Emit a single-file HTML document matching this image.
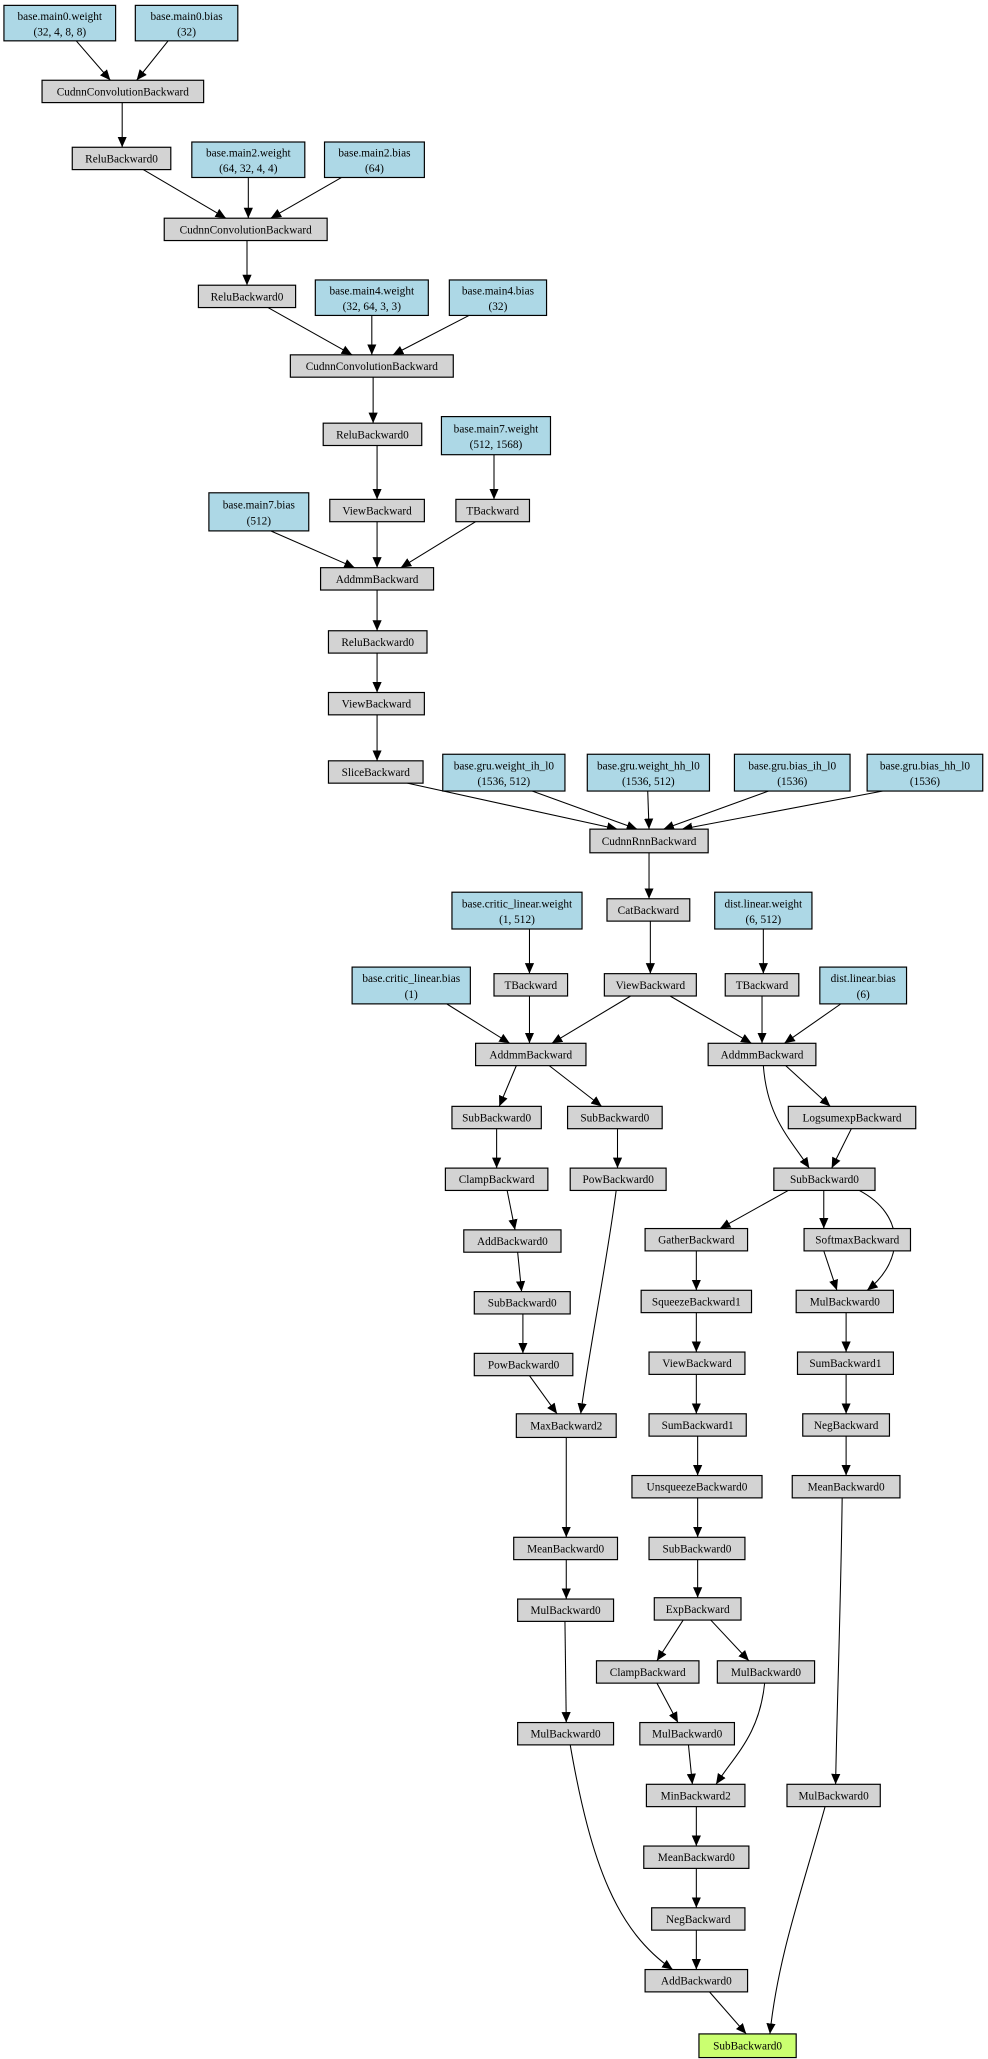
<!DOCTYPE html>
<html><head><meta charset="utf-8"><style>
html,body{margin:0;padding:0;background:#fff;}
svg{display:block;}
text{font-family:"Liberation Serif",serif;font-size:8.6px;fill:#000;text-anchor:middle;}
.g{fill:#d3d3d3;stroke:#000;stroke-width:0.9;}
.b{fill:#add8e6;stroke:#000;stroke-width:0.9;}
.r{fill:#caff70;stroke:#000;stroke-width:0.9;}
path.e{fill:none;stroke:#000;stroke-width:0.8;marker-end:url(#a);}
</style></head><body>
<svg width="988" height="2059" viewBox="0 0 752 1567" xmlns="http://www.w3.org/2000/svg">
<defs><marker id="a" markerUnits="userSpaceOnUse" markerWidth="10" markerHeight="8" refX="8" refY="4" orient="auto"><path d="M0,0.5 L8,4 L0,7.5 Z" fill="#000"/></marker></defs>
<rect width="752" height="1567" fill="#fff"/>
<!-- edges -->
<path class="e" d="M58,31 L84,61"/>
<path class="e" d="M128,31 L104,61"/>
<path class="e" d="M93,78 L93,112"/>
<path class="e" d="M109,129 L172,166"/>
<path class="e" d="M189,135 L189,166"/>
<path class="e" d="M260,135 L206,166"/>
<path class="e" d="M188,183 L188,217"/>
<path class="e" d="M204,234 L268,270"/>
<path class="e" d="M283,240 L283,270"/>
<path class="e" d="M357,240 L299,270"/>
<path class="e" d="M284,287 L284,322"/>
<path class="e" d="M287,339 L287,380"/>
<path class="e" d="M376,346 L376,380"/>
<path class="e" d="M206,404 L270,432"/>
<path class="e" d="M287,397 L287,432"/>
<path class="e" d="M362,397 L305,432"/>
<path class="e" d="M287,449 L287,480"/>
<path class="e" d="M287,497 L287,527"/>
<path class="e" d="M287,544 L287,579"/>
<path class="e" d="M310,596 L470,631"/>
<path class="e" d="M405,602 L485,631"/>
<path class="e" d="M493,602 L494,631"/>
<path class="e" d="M585,602 L505,631"/>
<path class="e" d="M672,602 L519,631"/>
<path class="e" d="M494,649 L494,684"/>
<path class="e" d="M495,701 L495,741"/>
<path class="e" d="M403,707 L403,741"/>
<path class="e" d="M581,707 L581,741"/>
<path class="e" d="M340,764 L388,794"/>
<path class="e" d="M403,758 L403,794"/>
<path class="e" d="M480,758 L420,794"/>
<path class="e" d="M510,758 L572,794"/>
<path class="e" d="M580,758 L580,794"/>
<path class="e" d="M640,764 L597,794"/>
<path class="e" d="M393,811 L380,842"/>
<path class="e" d="M418,811 L458,842"/>
<path class="e" d="M598,811 L632,842"/>
<path class="e" d="M581,811 C584,850 600,865 616,889"/>
<path class="e" d="M648,859 L633,889"/>
<path class="e" d="M378,859 L378,889"/>
<path class="e" d="M470,859 L470,889"/>
<path class="e" d="M386,906 L392,936"/>
<path class="e" d="M469,906 C462,960 448,1030 442,1076"/>
<path class="e" d="M600,906 L548,935"/>
<path class="e" d="M627,906 L627,935"/>
<path class="e" d="M654,906 C690,925 688,960 660,982"/>
<path class="e" d="M627,952 L637,982"/>
<path class="e" d="M530,952 L530,982"/>
<path class="e" d="M394,953 L397,983"/>
<path class="e" d="M398,1000 L398,1030"/>
<path class="e" d="M403,1047 L424,1076"/>
<path class="e" d="M530,999 L530,1029"/>
<path class="e" d="M644,999 L644,1029"/>
<path class="e" d="M530,1046 L530,1076"/>
<path class="e" d="M644,1046 L644,1076"/>
<path class="e" d="M531,1093 L531,1123"/>
<path class="e" d="M644,1093 L644,1123"/>
<path class="e" d="M431,1094 L431,1170"/>
<path class="e" d="M531,1140 L531,1170"/>
<path class="e" d="M431,1187 L431,1217"/>
<path class="e" d="M531,1187 L531,1216"/>
<path class="e" d="M520,1233 L500,1264"/>
<path class="e" d="M541,1233 L570,1264"/>
<path class="e" d="M430,1234 L431,1311"/>
<path class="e" d="M500,1281 L516,1311"/>
<path class="e" d="M582,1281 C578,1320 560,1335 545,1358"/>
<path class="e" d="M524,1328 L527,1358"/>
<path class="e" d="M641,1140 C640,1220 637,1300 636,1358"/>
<path class="e" d="M530,1375 L530,1405"/>
<path class="e" d="M530,1422 L530,1452"/>
<path class="e" d="M530,1469 L530,1499"/>
<path class="e" d="M434,1328 C450,1420 470,1470 512,1499"/>
<path class="e" d="M540,1516 L568,1548"/>
<path class="e" d="M628,1375 C610,1440 592,1490 586,1548"/>
<!-- nodes -->
<rect class="b" x="3" y="4" width="85" height="27"/><text x="45.5" y="15">base.main0.weight</text><text x="45.5" y="27">(32, 4, 8, 8)</text>
<rect class="b" x="103" y="4" width="78" height="27"/><text x="142" y="15">base.main0.bias</text><text x="142" y="27">(32)</text>
<rect class="g" x="32" y="61" width="123" height="17"/><text x="93.5" y="72.5">CudnnConvolutionBackward</text>
<rect class="g" x="55" y="112" width="75" height="17"/><text x="92.5" y="123.5">ReluBackward0</text>
<rect class="b" x="146" y="108" width="86" height="27"/><text x="189" y="119">base.main2.weight</text><text x="189" y="131">(64, 32, 4, 4)</text>
<rect class="b" x="247" y="108" width="76" height="27"/><text x="285" y="119">base.main2.bias</text><text x="285" y="131">(64)</text>
<rect class="g" x="125" y="166" width="124" height="17"/><text x="187" y="177.5">CudnnConvolutionBackward</text>
<rect class="g" x="151" y="217" width="74" height="17"/><text x="188" y="228.5">ReluBackward0</text>
<rect class="b" x="240" y="213" width="86" height="27"/><text x="283" y="224">base.main4.weight</text><text x="283" y="236">(32, 64, 3, 3)</text>
<rect class="b" x="342" y="213" width="74" height="27"/><text x="379" y="224">base.main4.bias</text><text x="379" y="236">(32)</text>
<rect class="g" x="221" y="270" width="124" height="17"/><text x="283" y="281.5">CudnnConvolutionBackward</text>
<rect class="g" x="246" y="322" width="75" height="17"/><text x="283.5" y="333.5">ReluBackward0</text>
<rect class="b" x="336" y="317" width="83" height="29"/><text x="377.5" y="329">base.main7.weight</text><text x="377.5" y="341">(512, 1568)</text>
<rect class="b" x="159" y="375" width="76" height="29"/><text x="197" y="387">base.main7.bias</text><text x="197" y="399">(512)</text>
<rect class="g" x="251" y="380" width="72" height="17"/><text x="287" y="391.5">ViewBackward</text>
<rect class="g" x="347" y="380" width="56" height="17"/><text x="375" y="391.5">TBackward</text>
<rect class="g" x="244" y="432" width="86" height="17"/><text x="287" y="443.5">AddmmBackward</text>
<rect class="g" x="250" y="480" width="75" height="17"/><text x="287.5" y="491.5">ReluBackward0</text>
<rect class="g" x="250" y="527" width="73" height="17"/><text x="286.5" y="538.5">ViewBackward</text>
<rect class="g" x="250" y="579" width="72" height="17"/><text x="286" y="590.5">SliceBackward</text>
<rect class="b" x="337" y="574" width="93" height="28"/><text x="383.5" y="585.5">base.gru.weight_ih_l0</text><text x="383.5" y="597.5">(1536, 512)</text>
<rect class="b" x="447" y="574" width="93" height="28"/><text x="493.5" y="585.5">base.gru.weight_hh_l0</text><text x="493.5" y="597.5">(1536, 512)</text>
<rect class="b" x="559" y="574" width="88" height="28"/><text x="603" y="585.5">base.gru.bias_ih_l0</text><text x="603" y="597.5">(1536)</text>
<rect class="b" x="660" y="574" width="88" height="28"/><text x="704" y="585.5">base.gru.bias_hh_l0</text><text x="704" y="597.5">(1536)</text>
<rect class="g" x="449" y="631" width="90" height="18"/><text x="494" y="643">CudnnRnnBackward</text>
<rect class="g" x="462" y="684" width="63" height="17"/><text x="493.5" y="695.5">CatBackward</text>
<rect class="b" x="344" y="679" width="99" height="28"/><text x="393.5" y="690.5">base.critic_linear.weight</text><text x="393.5" y="702.5">(1, 512)</text>
<rect class="b" x="544" y="679" width="74" height="28"/><text x="581" y="690.5">dist.linear.weight</text><text x="581" y="702.5">(6, 512)</text>
<rect class="b" x="268" y="736" width="90" height="28"/><text x="313" y="747.5">base.critic_linear.bias</text><text x="313" y="759.5">(1)</text>
<rect class="g" x="376" y="741" width="56" height="17"/><text x="404" y="752.5">TBackward</text>
<rect class="g" x="460" y="741" width="70" height="17"/><text x="495" y="752.5">ViewBackward</text>
<rect class="g" x="552" y="741" width="56" height="17"/><text x="580" y="752.5">TBackward</text>
<rect class="b" x="624" y="736" width="66" height="28"/><text x="657" y="747.5">dist.linear.bias</text><text x="657" y="759.5">(6)</text>
<rect class="g" x="362" y="794" width="84" height="17"/><text x="404" y="805.5">AddmmBackward</text>
<rect class="g" x="539" y="794" width="82" height="17"/><text x="580" y="805.5">AddmmBackward</text>
<rect class="g" x="344" y="842" width="68" height="17"/><text x="378" y="853.5">SubBackward0</text>
<rect class="g" x="432" y="842" width="72" height="17"/><text x="468" y="853.5">SubBackward0</text>
<rect class="g" x="600" y="842" width="97" height="17"/><text x="648.5" y="853.5">LogsumexpBackward</text>
<rect class="g" x="339" y="889" width="78" height="17"/><text x="378" y="900.5">ClampBackward</text>
<rect class="g" x="434" y="889" width="73" height="17"/><text x="470.5" y="900.5">PowBackward0</text>
<rect class="g" x="589" y="889" width="77" height="17"/><text x="627.5" y="900.5">SubBackward0</text>
<rect class="g" x="353" y="936" width="74" height="17"/><text x="390" y="947.5">AddBackward0</text>
<rect class="g" x="491" y="935" width="78" height="17"/><text x="530" y="946.5">GatherBackward</text>
<rect class="g" x="612" y="935" width="81" height="17"/><text x="652.5" y="946.5">SoftmaxBackward</text>
<rect class="g" x="361" y="983" width="73" height="17"/><text x="397.5" y="994.5">SubBackward0</text>
<rect class="g" x="488" y="982" width="84" height="17"/><text x="530" y="993.5">SqueezeBackward1</text>
<rect class="g" x="606" y="982" width="74" height="17"/><text x="643" y="993.5">MulBackward0</text>
<rect class="g" x="361" y="1030" width="75" height="17"/><text x="398.5" y="1041.5">PowBackward0</text>
<rect class="g" x="494" y="1029" width="73" height="17"/><text x="530.5" y="1040.5">ViewBackward</text>
<rect class="g" x="607" y="1029" width="73" height="17"/><text x="643.5" y="1040.5">SumBackward1</text>
<rect class="g" x="393" y="1076" width="76" height="18"/><text x="431" y="1088">MaxBackward2</text>
<rect class="g" x="494" y="1076" width="74" height="17"/><text x="531" y="1087.5">SumBackward1</text>
<rect class="g" x="611" y="1076" width="66" height="17"/><text x="644" y="1087.5">NegBackward</text>
<rect class="g" x="481" y="1123" width="99" height="17"/><text x="530.5" y="1134.5">UnsqueezeBackward0</text>
<rect class="g" x="603" y="1123" width="82" height="17"/><text x="644" y="1134.5">MeanBackward0</text>
<rect class="g" x="391" y="1170" width="79" height="17"/><text x="430.5" y="1181.5">MeanBackward0</text>
<rect class="g" x="494" y="1170" width="73" height="17"/><text x="530.5" y="1181.5">SubBackward0</text>
<rect class="g" x="394" y="1217" width="73" height="17"/><text x="430.5" y="1228.5">MulBackward0</text>
<rect class="g" x="498" y="1216" width="66" height="17"/><text x="531" y="1227.5">ExpBackward</text>
<rect class="g" x="454" y="1264" width="78" height="17"/><text x="493" y="1275.5">ClampBackward</text>
<rect class="g" x="546" y="1264" width="74" height="17"/><text x="583" y="1275.5">MulBackward0</text>
<rect class="g" x="394" y="1311" width="73" height="17"/><text x="430.5" y="1322.5">MulBackward0</text>
<rect class="g" x="487" y="1311" width="72" height="17"/><text x="523" y="1322.5">MulBackward0</text>
<rect class="g" x="492" y="1358" width="75" height="17"/><text x="529.5" y="1369.5">MinBackward2</text>
<rect class="g" x="599" y="1358" width="71" height="17"/><text x="634.5" y="1369.5">MulBackward0</text>
<rect class="g" x="490" y="1405" width="80" height="17"/><text x="530" y="1416.5">MeanBackward0</text>
<rect class="g" x="496" y="1452" width="71" height="17"/><text x="531.5" y="1463.5">NegBackward</text>
<rect class="g" x="491" y="1499" width="78" height="17"/><text x="530" y="1510.5">AddBackward0</text>
<rect class="r" x="532" y="1548" width="74" height="18"/><text x="569" y="1560">SubBackward0</text>
</svg>
</body></html>
